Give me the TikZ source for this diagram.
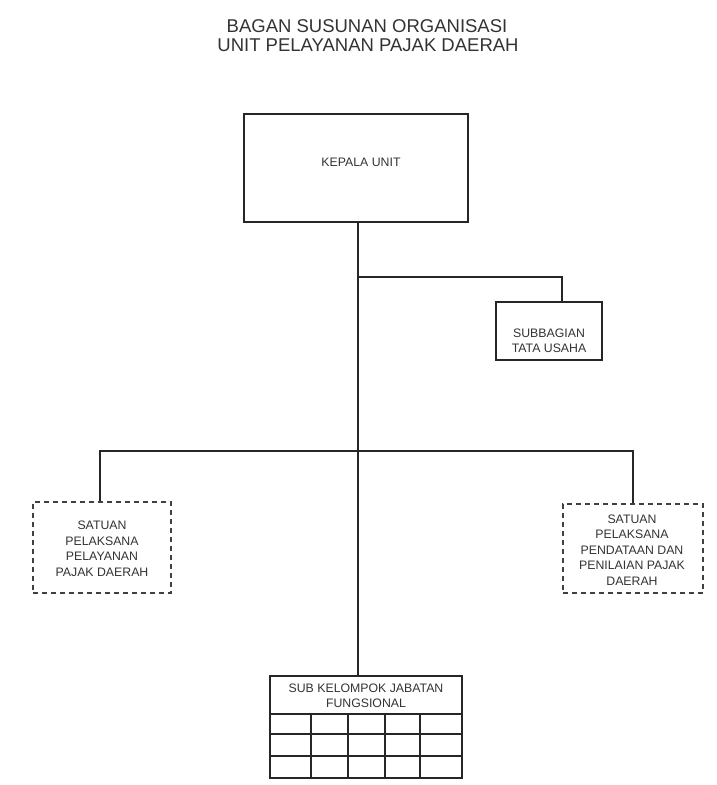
\documentclass[tikz,border=0pt]{standalone}
\usepackage{fontspec}
\setmainfont{Liberation Sans}
\begin{document}
\begin{tikzpicture}[x=1pt,y=-1pt,
  line width=1pt, draw=black!85,
  solidbox/.style={draw=black!85, line width=1.1pt, rectangle, inner sep=0pt},
  dashbox/.style={draw=black!75, line width=1.1pt, dash pattern=on 5pt off 4pt, rectangle, inner sep=0pt},
  boxtext/.style={font=\fontsize{12.3}{15.5}\selectfont, align=center, text=black!80},
  conn/.style={draw=black!85, line width=1.1pt}
]
\useasboundingbox (0,0) rectangle (717,785);
\fill[white] (0,0) rectangle (717,785);
% title
\node[font=\fontsize{18.5}{18.5}\selectfont, text=black!80] (t1) at (367,26) {BAGAN SUSUNAN ORGANISASI};
\node[font=\fontsize{18.5}{18.5}\selectfont, text=black!80] (t2) at (368,45) {UNIT PELAYANAN PAJAK DAERAH};
% boxes
\node[solidbox, minimum width=224pt, minimum height=108pt] (kepala) at (356,168) {};
\node[boxtext] (kepalat) at (361,162) {KEPALA UNIT};
\node[solidbox, minimum width=106pt, minimum height=58pt] (sub) at (549,331) {};
\node[boxtext] (subt) at (549,341) {SUBBAGIAN\\TATA USAHA};
\node[dashbox, minimum width=138pt, minimum height=91pt] (left) at (102,547.5) {};
\node[boxtext] (leftt) at (102,549) {SATUAN\\PELAKSANA\\PELAYANAN\\PAJAK DAERAH};
\node[dashbox, minimum width=140pt, minimum height=89pt] (right) at (633,548.5) {};
\node[boxtext] (rightt) at (632,550) {SATUAN\\PELAKSANA\\PENDATAAN DAN\\PENILAIAN PAJAK\\DAERAH};
% table
\node[solidbox, minimum width=192pt, minimum height=102pt] (tab) at (366,727) {};
\node[boxtext, font=\fontsize{12.3}{14.5}\selectfont] (tabt) at (366,696) {SUB KELOMPOK JABATAN\\FUNGSIONAL};
\coordinate (tabtop) at (358,676);
\foreach \yy in {714,734,756} \draw[conn] (270,\yy) -- (462,\yy);
\foreach \xx in {311,348,385,420} \draw[conn] (\xx,714) -- (\xx,778);
% connectors
\coordinate (j1) at (358,277);
\coordinate (j1r) at (562,277);
\coordinate (j2) at (358,451);
\coordinate (j2l) at (100,451);
\coordinate (j2r) at (633,451);
\draw[conn] (kepala.south -| j1) -- (tabtop);
\draw[conn] (j1) -- (j1r) -- (j1r |- sub.north);
\draw[conn] (j2l |- left.north) -- (j2l) -- (j2r) -- (right.north -| j2r);
\end{tikzpicture}
\end{document}
